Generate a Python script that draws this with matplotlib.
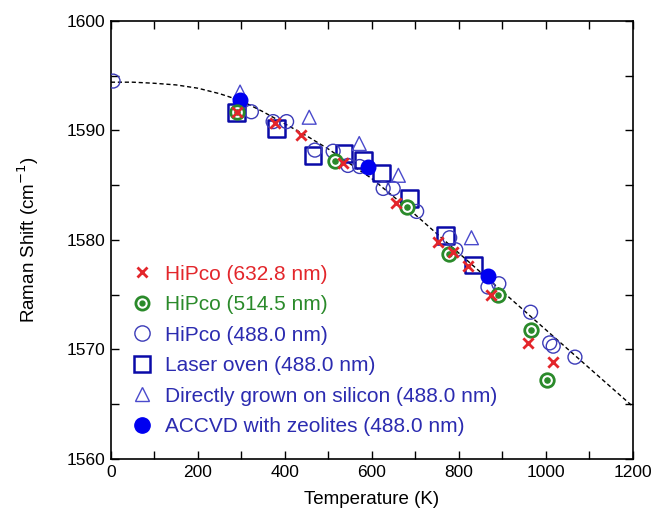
import matplotlib.pyplot as plt
from matplotlib.ticker import MultipleLocator
from matplotlib.legend_handler import HandlerTuple
from matplotlib.lines import Line2D

plt.rcParams['font.family'] = ['Liberation Sans', 'DejaVu Sans']

# datos
t_x632 = [290, 377, 436, 534, 655, 752, 786, 820, 875, 959, 1017]
r_x632 = [1591.7, 1590.7, 1589.6, 1587.0, 1583.4, 1579.8, 1578.9, 1577.6, 1575.0, 1570.6, 1568.9]

t_g514 = [290, 515, 680, 777, 890, 965, 1002]
r_g514 = [1591.7, 1587.2, 1583.0, 1578.7, 1575.0, 1571.8, 1567.2]

t_c488 = [5, 323, 373, 404, 469, 511, 545, 572, 626, 649, 703, 779, 793,
          867, 892, 965, 1009, 1017, 1067]
r_c488 = [1594.5, 1591.7, 1590.8, 1590.8, 1588.2, 1588.1, 1586.8, 1586.7, 1584.7,
          1584.7, 1582.6, 1580.2, 1579.1, 1575.7, 1576.0, 1573.4, 1570.6, 1570.3, 1569.3]

t_oven = [289, 381, 465, 536, 580, 622, 687, 770, 833]
r_oven = [1591.6, 1590.2, 1587.7, 1587.9, 1587.3, 1586.1, 1583.8, 1580.4, 1577.7]

t_si = [297, 456, 571, 661, 829]
r_si = [1593.5, 1591.2, 1588.8, 1585.9, 1580.2]

t_zeo = [297, 592, 866]
r_zeo = [1592.8, 1586.7, 1576.7]

# curva de ajuste (puntos leidos sobre la linea punteada)
t_fit = [0, 50, 100, 150, 200, 250, 300, 350, 400, 450, 500, 600, 700,
         800, 900, 1000, 1100, 1200]
r_fit = [1594.4, 1594.4, 1594.3, 1594.15, 1593.85, 1593.35, 1592.7, 1591.7,
         1590.6, 1589.5, 1588.3, 1585.6, 1582.3, 1578.8, 1575.3, 1571.8,
         1568.3, 1564.8]

labels = ['HiPco (632.8 nm)', 'HiPco (514.5 nm)', 'HiPco (488.0 nm)',
          'Laser oven (488.0 nm)', 'Directly grown on silicon (488.0 nm)',
          'ACCVD with zeolites (488.0 nm)']

c_red = '#e3262b'
c_green = '#2a8a2a'
c_circ = '#3b3bb8'
c_sq = '#0a0aa8'
c_tri = '#4a4acc'
c_fill = '#0000f0'
text_cols = [c_red, c_green, '#2b2bb0', '#2b2bb0', '#2b2bb0', '#2b2bb0']

fig = plt.figure(figsize=(6.64, 5.21), dpi=100)
ax = fig.add_axes([0.167, 0.119, 0.786, 0.841])

ax.plot(t_fit, r_fit, color='black', ls=(0, (3, 2)), lw=1.0, zorder=1)

ax.scatter(t_oven, r_oven, marker='s', s=145, facecolors='none',
           edgecolors=c_sq, linewidths=1.8, zorder=2)
ax.scatter(t_c488, r_c488, marker='o', s=100, facecolors='none',
           edgecolors=c_circ, linewidths=1.0, zorder=3)
ax.scatter(t_si, r_si, marker='^', s=100, facecolors='none',
           edgecolors=c_tri, linewidths=1.0, zorder=3)
ax.scatter(t_zeo, r_zeo, marker='o', s=110, color=c_fill, zorder=4)
ax.scatter(t_g514, r_g514, marker='o', s=95, facecolors='white',
           edgecolors=c_green, linewidths=2.0, zorder=5)
ax.scatter(t_g514, r_g514, marker='o', s=14, color=c_green, zorder=6)
ax.scatter(t_x632, r_x632, marker='x', s=55, color=c_red, linewidths=2.0, zorder=7)

h_x = Line2D([], [], ls='none', marker='x', ms=7, mew=2.0, color=c_red)
h_g1 = Line2D([], [], ls='none', marker='o', ms=9.5, mfc='white', mec=c_green, mew=2.0)
h_g2 = Line2D([], [], ls='none', marker='o', ms=3.5, color=c_green)
h_c = Line2D([], [], ls='none', marker='o', ms=11, mfc='none', mec=c_circ, mew=1.0)
h_s = Line2D([], [], ls='none', marker='s', ms=11.5, mfc='none', mec=c_sq, mew=1.8)
h_t = Line2D([], [], ls='none', marker='^', ms=10.5, mfc='none', mec=c_tri, mew=1.0)
h_f = Line2D([], [], ls='none', marker='o', ms=11, color=c_fill)

leg = ax.legend([h_x, (h_g1, h_g2), h_c, h_s, h_t, h_f], labels,
                handler_map={tuple: HandlerTuple(ndivide=1, pad=0)},
                loc='lower left', bbox_to_anchor=(0.0, 0.005), frameon=False,
                fontsize=15, handlelength=1.0, handletextpad=0.62,
                labelspacing=0.55, borderaxespad=0.6)
for txt, col in zip(leg.get_texts(), text_cols):
    txt.set_color(col)

ax.set_xlim(0, 1200)
ax.set_ylim(1560, 1600)
ax.xaxis.set_major_locator(MultipleLocator(200))
ax.xaxis.set_minor_locator(MultipleLocator(100))
ax.yaxis.set_major_locator(MultipleLocator(10))
ax.yaxis.set_minor_locator(MultipleLocator(5))
ax.tick_params(which='both', direction='in', top=True, right=True,
               length=6, width=1.0, labelsize=12.5, pad=4)
for sp in ax.spines.values():
    sp.set_linewidth(1.2)

ax.set_xlabel('Temperature (K)', fontsize=13.5, labelpad=8)
ax.set_ylabel('Raman Shift (cm$^{-1}$)', fontsize=13.5, labelpad=18)

fig.savefig('out.png', dpi=100)
